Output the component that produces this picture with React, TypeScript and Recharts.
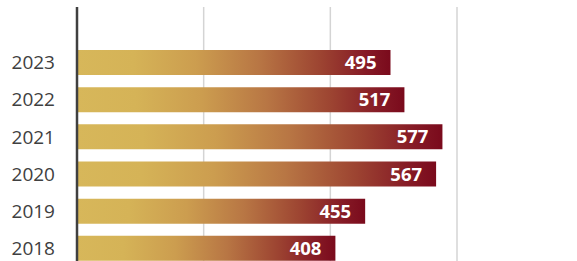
import { BarChart, Bar, XAxis, YAxis, CartesianGrid, LabelList } from 'recharts'

const YEARS = ['2023', '2022', '2021', '2020', '2019', '2018']
const VALUES = [495, 517, 577, 567, 455, 408]
const X_TICKS = [0, 200, 400, 600]

const data = YEARS.map((year, i) => ({ year, value: VALUES[i] }))

export default function App() {
  return (
    <div style={{ position: 'fixed', left: 0, top: 0, width: 577, height: 261, overflow: 'hidden', background: '#fff' }}>
      <BarChart
        width={577}
        height={267}
        data={data}
        layout="vertical"
        margin={{ top: 7, right: 120, bottom: 0, left: 0 }}
      >
        <defs>
          <linearGradient id="barGrad" x1="0" y1="0" x2="1" y2="0">
            <stop offset="0%" stopColor="#d7b75a" />
            <stop offset="18%" stopColor="#d5b357" />
            <stop offset="38%" stopColor="#cc9d4f" />
            <stop offset="58%" stopColor="#b87644" />
            <stop offset="78%" stopColor="#9c4331" />
            <stop offset="92%" stopColor="#861b26" />
            <stop offset="100%" stopColor="#7a0a1c" />
          </linearGradient>
        </defs>
        <CartesianGrid horizontal={false} stroke="#d4d4d4" strokeWidth={1.5} />
        <XAxis type="number" domain={[0, 600]} ticks={X_TICKS} hide />
        <YAxis
          type="category"
          dataKey="year"
          width={77}
          padding={{ top: 37, bottom: 0 }}
          axisLine={{ stroke: '#404040', strokeWidth: 2.5 }}
          tickLine={false}
          tickMargin={16}
          tick={{ fontSize: 19, fill: '#404040', fontFamily: '"Open Sans", sans-serif' }}
        />
        <Bar dataKey="value" fill="url(#barGrad)" barSize={25} isAnimationActive={false}>
          <LabelList
            dataKey="value"
            position="insideRight"
            offset={14}
            fill="#ffffff"
            style={{ fontSize: 18.5, fontWeight: 700, fontFamily: '"Open Sans", sans-serif' }}
          />
        </Bar>
      </BarChart>
    </div>
  )
}
